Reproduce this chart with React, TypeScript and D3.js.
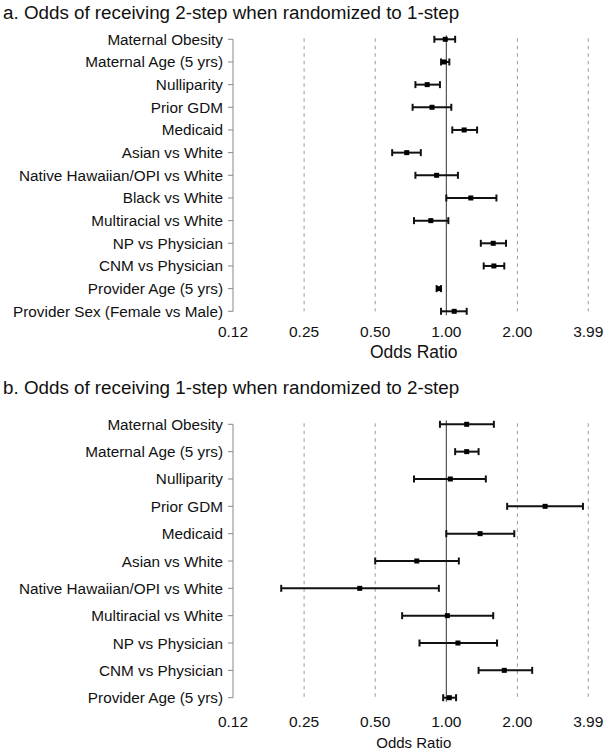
import React from 'react'
import * as d3 from 'd3'

const labelsA = [
  'Maternal Obesity',
  'Maternal Age (5 yrs)',
  'Nulliparity',
  'Prior GDM',
  'Medicaid',
  'Asian vs White',
  'Native Hawaiian/OPI vs White',
  'Black vs White',
  'Multiracial vs White',
  'NP vs Physician',
  'CNM vs Physician',
  'Provider Age (5 yrs)',
  'Provider Sex (Female vs Male)'
]
const orA = [0.99, 0.98, 0.83, 0.87, 1.19, 0.68, 0.91, 1.27, 0.86, 1.58, 1.59, 0.93, 1.08]
const loA = [0.89, 0.95, 0.74, 0.72, 1.06, 0.59, 0.74, 1.0, 0.73, 1.4, 1.44, 0.91, 0.95]
const hiA = [1.09, 1.03, 0.94, 1.05, 1.35, 0.78, 1.12, 1.63, 1.02, 1.79, 1.76, 0.95, 1.22]

const labelsB = [
  'Maternal Obesity',
  'Maternal Age (5 yrs)',
  'Nulliparity',
  'Prior GDM',
  'Medicaid',
  'Asian vs White',
  'Native Hawaiian/OPI vs White',
  'Multiracial vs White',
  'NP vs Physician',
  'CNM vs Physician',
  'Provider Age (5 yrs)'
]
const orB = [1.22, 1.22, 1.04, 2.62, 1.39, 0.75, 0.43, 1.01, 1.12, 1.76, 1.03]
const loB = [0.94, 1.09, 0.73, 1.81, 1.0, 0.5, 0.2, 0.65, 0.77, 1.37, 0.97]
const hiB = [1.59, 1.37, 1.47, 3.79, 1.94, 1.13, 0.93, 1.58, 1.64, 2.31, 1.1]

const tickValues = [0.125, 0.25, 0.5, 1, 2, 3.99]
const tickLabels = ['0.12', '0.25', '0.50', '1.00', '2.00', '3.99']

const FONT = 'Arial, "Liberation Sans", sans-serif'

// shared log2 x scale
const x = d3.scaleLog().base(2).domain([0.125, 4]).range([233, 588.5])

interface PanelProps {
  title: string
  labels: string[]
  or: number[]
  lo: number[]
  hi: number[]
  titleY: number
  rowTop: number
  rowBottom: number
  tickY: number
  xTitleY: number
  xTitleSize: number
}

const Panel: React.FC<PanelProps> = ({ title, labels, or, lo, hi, titleY, rowTop, rowBottom, tickY, xTitleY, xTitleSize }) => {
  const y = d3.scalePoint<string>().domain(labels).range([rowTop, rowBottom])
  const x0 = x.range()[0]
  return (
    <g>
      <text x={3} y={titleY} fontSize={18.8} fontFamily={FONT} fill="#111" dominantBaseline="central">
        {title}
      </text>

      {/* dashed reference lines */}
      {tickValues.filter(v => v !== 0.125 && v !== 1).map(v => (
        <line key={v} x1={x(v)} x2={x(v)} y1={rowTop - 1} y2={rowBottom} stroke="#999" strokeWidth={1} strokeDasharray="3.5,4" />
      ))}
      {/* null line */}
      <line x1={x(1)} x2={x(1)} y1={rowTop - 4} y2={rowBottom + 4} stroke="#333" strokeWidth={1} />

      {/* y axis */}
      <line x1={x0} x2={x0} y1={rowTop} y2={rowBottom} stroke="#888" strokeWidth={1} />
      {labels.map(l => (
        <g key={l} transform={`translate(0,${y(l)})`}>
          <line x1={x0 - 5} x2={x0} stroke="#888" strokeWidth={1} />
          <text x={x0 - 10} textAnchor="end" dominantBaseline="central" fontSize={15.3} fontFamily={FONT} fill="#111">
            {l}
          </text>
        </g>
      ))}

      {/* estimates */}
      {labels.map((l, i) => {
        const yy = y(l) as number
        return (
          <g key={l}>
            <line x1={x(lo[i])} x2={x(hi[i])} y1={yy} y2={yy} stroke="#111" strokeWidth={2} />
            <line x1={x(lo[i])} x2={x(lo[i])} y1={yy - 3.5} y2={yy + 3.5} stroke="#111" strokeWidth={2} />
            <line x1={x(hi[i])} x2={x(hi[i])} y1={yy - 3.5} y2={yy + 3.5} stroke="#111" strokeWidth={2} />
            <rect x={x(or[i]) - 2.5} y={yy - 2.5} width={5} height={5} fill="#000" />
          </g>
        )
      })}

      {/* x tick labels */}
      {tickValues.map((v, i) => (
        <text key={v} x={x(v)} y={tickY} textAnchor="middle" dominantBaseline="central" fontSize={15.5} fontFamily={FONT} fill="#111">
          {tickLabels[i]}
        </text>
      ))}
      <text x={(x.range()[0] + x.range()[1]) / 2 + 3} y={xTitleY} textAnchor="middle" dominantBaseline="central" fontSize={xTitleSize} fontFamily={FONT} fill="#111">
        Odds Ratio
      </text>
    </g>
  )
}

export default function App() {
  return (
    <svg width={606} height={750} style={{ position: 'absolute', left: 0, top: 0, background: '#fff' }}>
      <Panel
        title="a. Odds of receiving 2-step when randomized to 1-step"
        labels={labelsA}
        or={orA}
        lo={loA}
        hi={hiA}
        titleY={12}
        rowTop={39.3}
        rowBottom={311.3}
        tickY={331.5}
        xTitleY={352}
        xTitleSize={17.5}
      />
      <Panel
        title="b. Odds of receiving 1-step when randomized to 2-step"
        labels={labelsB}
        or={orB}
        lo={loB}
        hi={hiB}
        titleY={387}
        rowTop={424.3}
        rowBottom={697.7}
        tickY={721.5}
        xTitleY={742}
        xTitleSize={15}
      />
    </svg>
  )
}
